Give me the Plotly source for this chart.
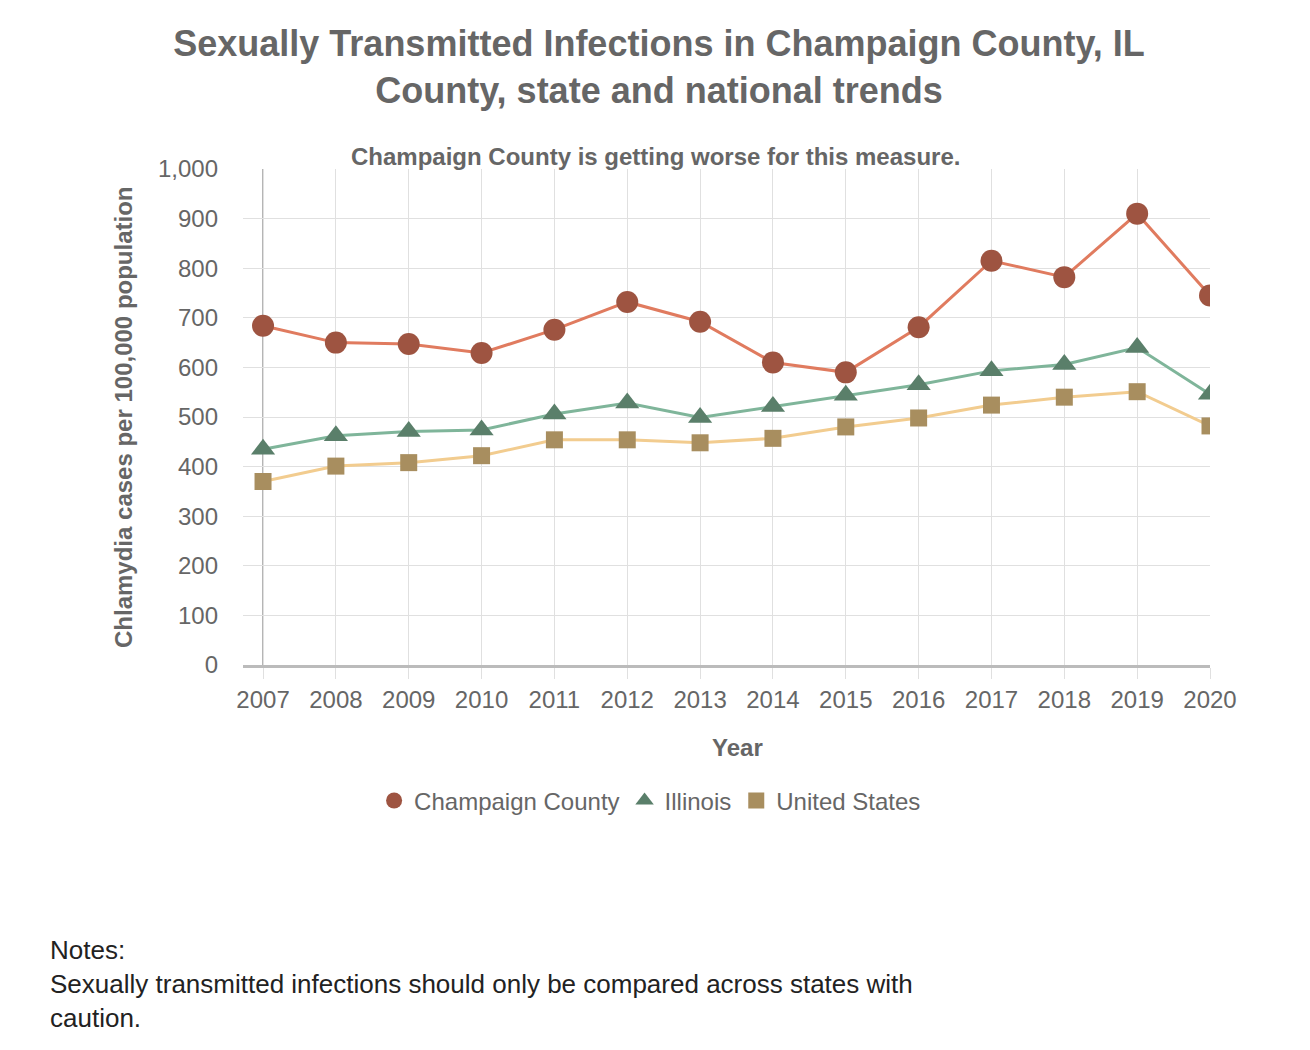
import plotly.graph_objects as go

years = list(range(2007, 2021))
champaign = [684, 650, 647, 629, 676, 732, 692, 610, 590, 681, 815, 782, 910, 745]
illinois = [435, 462, 471, 474, 506, 528, 499, 521, 544, 565, 593, 606, 640, 546]
united_states = [370, 401, 408, 422, 454, 454, 448, 457, 480, 498, 524, 540, 551, 482]

series_names = ["Champaign County", "Illinois", "United States"]
y_ticks = [0, 100, 200, 300, 400, 500, 600, 700, 800, 900, 1000]
y_tick_text = ["0", "100", "200", "300", "400", "500", "600", "700", "800", "900", "1,000"]

FONT = "Liberation Sans, Arial, Helvetica, sans-serif"
GREY = "#666666"

line_colors = ["#E07B5F", "#7FB59A", "#F2CC8F"]
marker_colors = ["#9E5441", "#5A7F6A", "#A88E5F"]
symbols = ["circle", "triangle-up", "square"]
sizes = [22, 21, 17]

fig = go.Figure()

for name, vals, lc, mc, sym, sz in zip(series_names, [champaign, illinois, united_states],
                                       line_colors, marker_colors, symbols, sizes):
    fig.add_trace(go.Scatter(
        x=years, y=vals, name=name, mode="lines+markers", showlegend=False,
        line=dict(color=lc, width=3),
        marker=dict(symbol=sym, size=sz, color=mc),
    ))

# marker-only legend entries (no line segment, like the original)
for name, mc, sym in zip(series_names, marker_colors, symbols):
    fig.add_trace(go.Scatter(
        x=[None], y=[None], name=name, mode="markers",
        marker=dict(symbol=sym, size=30, color=mc),
    ))

# darker vertical line at the first year (axis line)
fig.add_shape(type="line", xref="x", yref="paper", x0=2007, x1=2007, y0=0, y1=1,
              line=dict(color="#999999", width=1.5), layer="below")

fig.update_layout(
    width=1302, height=1042,
    paper_bgcolor="white", plot_bgcolor="white",
    margin=dict(l=235, r=100, t=161, b=385),
    font=dict(family=FONT, color=GREY, size=24),
    title=dict(
        text="<b>Sexually Transmitted Infections in Champaign County, IL<br>County, state and national trends</b>",
        x=0.5, xanchor="center", y=1 - 48 / 1042, yanchor="middle",
        font=dict(size=36, color=GREY, family=FONT),
    ),
    legend=dict(
        orientation="h", x=0.421, xanchor="center", y=-0.274, yanchor="middle",
        font=dict(size=24, color=GREY), itemsizing="trace",
    ),
    showlegend=True,
)

fig.update_xaxes(
    range=[2006.725, 2020], tickmode="array", tickvals=years,
    showgrid=True, gridcolor="#e0e0e0", gridwidth=1,
    ticks="outside", ticklen=11, tickcolor="#e0e0e0",
    showline=True, linecolor="#bbbbbb", linewidth=3,
    tickfont=dict(size=24, color=GREY), zeroline=False,
)
fig.update_yaxes(
    range=[0, 1000], tickmode="array", tickvals=y_ticks, ticktext=y_tick_text,
    showgrid=True, gridcolor="#e0e0e0", gridwidth=1,
    zeroline=False, ticklabelstandoff=24,
    tickfont=dict(size=24, color=GREY),
)

fig.add_annotation(
    text="<b>Champaign County is getting worse for this measure.</b>",
    xref="paper", yref="paper", x=(655 - 243) / 967, y=(665 - 156) / 496,
    xanchor="center", yanchor="middle", showarrow=False,
    font=dict(size=24, color=GREY),
)
fig.add_annotation(
    text="<b>Chlamydia cases per 100,000 population</b>",
    xref="paper", yref="paper", x=(123 - 243) / 967, y=0.5,
    xanchor="center", yanchor="middle", textangle=-90, showarrow=False,
    font=dict(size=24, color=GREY),
)
fig.add_annotation(
    text="<b>Year</b>",
    xref="paper", yref="paper", x=(737 - 243) / 967, y=(665 - 747) / 496,
    xanchor="center", yanchor="middle", showarrow=False,
    font=dict(size=24, color=GREY),
)
fig.add_annotation(
    text="Notes:<br>Sexually transmitted infections should only be compared across states with<br>caution.",
    xref="paper", yref="paper", x=(48 - 243) / 967, y=(665 - 933) / 496,
    xanchor="left", yanchor="top", align="left", showarrow=False,
    font=dict(size=26, color="#222222"),
)

fig.write_html("out.html")
